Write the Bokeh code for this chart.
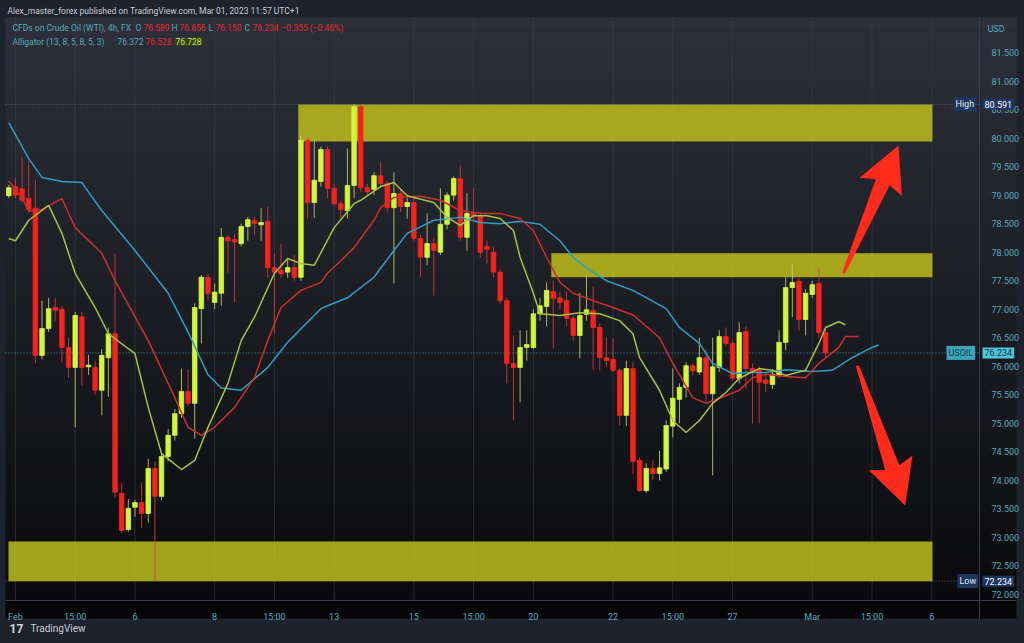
import numpy as np
from bokeh.plotting import figure
from bokeh.models import (ColumnDataSource, FixedTicker, Range1d, Label, LinearAxis,
                          PrintfTickFormatter)
from bokeh.embed import file_html
from bokeh.resources import INLINE

# ---------------- data (4h candles, CFDs on Crude Oil WTI) ----------------
opens = [78.99, 79.15, 79.11, 78.94, 78.77, 76.19, 76.66, 77.03, 77.00, 76.33,
         75.98, 76.87, 75.99, 75.98, 75.58, 76.15, 76.57, 73.77, 73.14, 73.53,
         73.61, 73.42, 74.21, 73.72, 74.42, 74.79, 75.17, 75.56, 75.35, 77.01,
         77.56, 77.12, 77.28, 78.26, 78.22, 78.15, 78.45, 78.55, 78.48, 78.54,
         77.73, 77.68, 77.65, 77.73, 77.56, 79.96, 78.87, 79.24, 79.80, 79.12,
         78.85, 78.73, 79.17, 80.55, 79.13, 79.10, 79.34, 79.20, 78.78, 79.03,
         78.80, 78.87, 78.24, 77.91, 78.15, 78.00, 78.49, 79.00, 79.29, 78.26,
         78.68, 78.64, 78.10, 78.00, 77.65, 77.15, 76.05, 75.98, 76.33, 76.33,
         76.92, 77.05, 77.31, 77.20, 77.15, 76.84, 76.54, 76.91, 76.98, 76.68,
         76.15, 76.12, 75.93, 75.14, 75.96, 74.35, 73.82, 74.21, 74.12, 74.20,
         74.95, 75.42, 75.63, 76.01, 75.90, 76.15, 75.52, 75.98, 76.52, 76.40,
         75.79, 76.61, 75.96, 75.94, 75.76, 75.68, 75.84, 76.42, 77.38, 77.49,
         76.82, 77.26, 77.45, 76.59]
highs = [79.18, 79.30, 79.66, 79.60, 79.26, 77.15, 77.20, 77.20, 77.05, 76.50,
         76.95, 76.95, 76.20, 76.10, 76.30, 76.68, 77.98, 73.96, 73.67, 73.66,
         73.96, 74.38, 74.33, 74.50, 74.90, 75.25, 75.96, 75.94, 77.10, 77.60,
         77.62, 77.45, 78.42, 78.30, 78.32, 78.50, 78.62, 78.62, 78.77, 78.80,
         77.98, 78.15, 77.90, 77.95, 80.05, 80.00, 79.96, 79.85, 79.85, 79.20,
         78.90, 79.82, 80.591, 80.59, 79.20, 79.40, 79.57, 79.25, 79.40, 79.10,
         78.95, 78.95, 78.30, 78.68, 78.25, 79.12, 79.05, 79.33, 79.52, 79.03,
         79.12, 78.70, 78.20, 78.10, 77.70, 77.20, 76.54, 76.63, 76.63, 77.00,
         77.20, 77.47, 77.50, 77.30, 77.30, 76.90, 77.29, 77.59, 77.40, 76.75,
         76.50, 76.49, 75.96, 76.10, 76.07, 74.40, 74.30, 74.35, 74.52, 75.05,
         75.96, 75.70, 76.07, 76.05, 76.50, 76.30, 76.50, 76.63, 76.68, 76.45,
         76.77, 76.70, 76.05, 76.00, 75.85, 75.95, 76.63, 77.56, 77.80, 77.55,
         77.35, 77.50, 77.71, 76.66]
lows = [78.95, 78.95, 78.88, 78.70, 76.05, 76.12, 76.60, 76.80, 76.07, 75.80,
        74.93, 75.66, 75.85, 75.50, 75.14, 75.46, 73.70, 73.08, 73.10, 73.36,
        73.16, 73.26, 72.234, 73.65, 74.33, 74.70, 75.10, 75.30, 74.73, 76.40,
        77.15, 77.00, 77.06, 77.64, 77.12, 78.10, 78.20, 78.30, 78.20, 77.56,
        76.57, 77.55, 77.55, 77.50, 77.50, 78.59, 78.60, 79.15, 78.95, 78.80,
        78.60, 78.59, 78.95, 79.05, 79.00, 79.00, 79.15, 78.70, 77.45, 78.70,
        78.59, 78.20, 77.56, 77.77, 77.24, 77.95, 78.40, 78.90, 78.20, 78.03,
        78.55, 77.90, 77.80, 77.55, 77.10, 75.70, 75.05, 75.37, 76.10, 76.30,
        76.80, 76.70, 76.31, 77.00, 76.70, 76.45, 76.14, 76.80, 75.93, 75.93,
        75.98, 75.90, 74.96, 74.95, 74.12, 73.80, 73.78, 74.00, 74.00, 74.15,
        74.75, 75.00, 75.45, 75.85, 75.85, 75.35, 74.09, 75.90, 76.35, 75.75,
        75.70, 75.60, 75.00, 75.00, 75.55, 75.60, 75.80, 76.28, 76.86, 76.63,
        76.54, 77.20, 76.50, 76.15]
closes = [79.13, 79.00, 78.91, 78.75, 76.19, 76.66, 77.01, 76.98, 76.33, 75.98,
          76.89, 75.98, 76.02, 75.58, 76.19, 76.57, 73.79, 73.12, 73.51, 73.61,
          73.42, 74.21, 73.72, 74.42, 74.79, 75.17, 75.56, 75.35, 77.03, 77.56,
          77.28, 77.30, 78.26, 78.20, 78.18, 78.45, 78.57, 78.50, 78.52, 77.73,
          77.65, 77.62, 77.73, 77.56, 79.96, 78.87, 79.26, 79.80, 79.12, 78.85,
          78.75, 79.17, 80.55, 79.13, 79.06, 79.34, 79.20, 78.78, 79.03, 78.80,
          78.87, 78.24, 77.91, 78.15, 78.03, 78.49, 79.00, 79.29, 78.26, 78.68,
          78.63, 78.00, 78.05, 77.65, 77.15, 76.05, 75.98, 76.33, 76.38, 76.92,
          77.06, 77.33, 77.19, 77.12, 76.84, 76.54, 76.89, 76.99, 76.68, 76.15,
          76.10, 75.93, 75.14, 75.96, 74.33, 73.82, 74.21, 74.12, 74.22, 74.96,
          75.44, 75.63, 76.01, 75.92, 76.15, 75.52, 75.99, 76.52, 76.40, 75.79,
          76.59, 75.96, 75.90, 75.72, 75.70, 75.86, 76.42, 77.38, 77.47, 76.82,
          77.28, 77.43, 76.59, 76.234]

# Alligator (13, 8, 5, 8, 5, 3) (candle index, price)
jaw_x = [0, 3, 5, 8, 11, 14, 19, 24, 27, 28, 30, 32, 35, 39, 42, 47, 48, 51, 55, 58,
         60, 64, 68, 71, 74, 77, 80, 83, 85, 87, 90, 94, 99, 101, 104, 106, 109, 111, 114, 117,
         121, 124, 127, 130, 131]
jaw_y = [80.27, 79.64, 79.31, 79.24, 79.22, 78.73, 78.03, 77.28, 76.60, 76.35,
         75.85, 75.62, 75.58, 75.98, 76.42, 77.01, 77.06, 77.20, 77.56, 78.03,
         78.33, 78.56, 78.61, 78.52, 78.50, 78.54, 78.49, 78.20, 77.91, 77.72,
         77.50, 77.33, 77.01, 76.68, 76.40, 76.05, 75.87, 75.89, 75.89, 75.94,
         75.91, 75.93, 76.15, 76.33, 76.372]
teeth_x = [0, 2, 3, 5, 8, 10, 14, 16, 21, 25, 27, 29, 31, 34, 37, 39, 41, 44, 47, 48,
           50, 52, 55, 56, 58, 62, 65, 68, 71, 74, 77, 79, 81, 83, 85, 88, 91, 94, 98, 100,
           103, 105, 107, 110, 112, 114, 117, 120, 122, 125, 126, 128]
teeth_y = [79.25, 78.95, 78.72, 78.75, 78.94, 78.43, 77.98, 77.50, 76.45, 75.45,
           74.93, 74.79, 74.93, 75.28, 75.80, 76.45, 77.03, 77.33, 77.47, 77.63,
           77.85, 78.08, 78.56, 78.78, 78.96, 78.98, 78.91, 78.73, 78.68, 78.68,
           78.59, 78.38, 77.91, 77.47, 77.28, 77.15, 77.03, 76.90, 76.50, 76.05,
           75.45, 75.35, 75.44, 75.58, 75.80, 75.86, 75.82, 75.80, 76.05, 76.33,
           76.52, 76.52]
lips_x = [0, 1, 3, 6, 8, 10, 13, 15, 19, 21, 23, 26, 28, 30, 33, 35, 37, 40, 42, 44,
          46, 49, 52, 53, 56, 58, 60, 64, 66, 68, 70, 72, 74, 76, 77, 79, 80, 83, 86, 89,
          92, 94, 95, 98, 100, 102, 104, 106, 108, 110, 113, 115, 117, 120, 122, 123, 125, 126]
lips_y = [78.24, 78.20, 78.56, 78.82, 78.33, 77.63, 77.03, 76.57, 76.22, 75.28,
          74.47, 74.19, 74.35, 74.93, 75.70, 76.45, 76.86, 77.63, 77.89, 77.80,
          77.77, 78.43, 78.85, 78.91, 79.15, 79.22, 78.99, 78.87, 78.61, 78.47,
          78.64, 78.64, 78.59, 78.38, 77.91, 77.28, 76.92, 76.89, 76.94, 76.92,
          76.80, 76.57, 76.15, 75.58, 75.05, 74.84, 75.05, 75.35, 75.54, 75.79,
          75.96, 75.93, 75.84, 75.93, 76.40, 76.68, 76.78, 76.728]

# drawn zones (support / resistance boxes)
zone_left = [43.6, 81.7, -0.05]
zone_right = [139.1, 139.1, 139.1]
zone_bottom = [79.94, 77.56, 72.23]
zone_top = [80.59, 77.98, 72.93]

# drawn arrows (tail -> tip)
arrow_tail_x = [125.7, 127.8]
arrow_tail_y = [77.63, 76.01]
arrow_tip_x = [134.0, 135.0]
arrow_tip_y = [79.87, 73.56]

price_high = 80.591
price_low = 72.234
price_last = 76.234

price_ticks = [72.0, 72.5, 73.0, 73.5, 74.0, 74.5, 75.0, 75.5, 76.0, 76.5,
               77.0, 77.5, 78.0, 78.5, 79.0, 79.5, 80.0, 80.5, 81.0, 81.5]
time_ticks = [1, 10, 19, 31, 40, 49, 61, 70, 79, 91, 100, 109, 121, 130, 139]
time_labels = ["Feb", "15:00", "6", "8", "15:00", "13", "15", "15:00", "20", "22",
               "15:00", "27", "Mar", "15:00", "6"]

# ---------------- layout constants (screen geometry) ----------------
W, H = 1024, 643                 # whole figure = frame (page has no margin)
PX_K = 6.64                      # pixels per candle
PX_P = 57.05                     # pixels per 1.0 USD
X0 = -8.3 / PX_K
X1 = X0 + W / PX_K
Y1 = 81.5 + 52 / PX_P            # figure top
Y0 = Y1 - H / PX_P               # figure bottom
X_PANE = X0 + 5 / PX_K           # left edge of the chart pane
X_SCALE = X0 + 979 / PX_K        # right edge of the chart pane (price scale starts)
Y_TOP = Y1 - 17 / PX_P           # top of chart pane
Y_TIME = Y1 - 600 / PX_P         # bottom of chart pane (time scale starts)
Y_FOOT = Y1 - 618 / PX_P         # bottom of time scale strip
X_RIGHT = X0 + 1016 / PX_K       # right edge of price scale

FONT = "Roboto"
TEAL = "#56a9bb"
RED = "#e8262a"

p = figure(frame_width=W, frame_height=H, x_range=Range1d(X0, X1), y_range=Range1d(Y0, Y1),
           x_axis_location=None, y_axis_location=None,
           output_backend="svg", toolbar_location=None, min_border=0,
           background_fill_color="#1e222d", border_fill_color="#1e222d",
           outline_line_color=None)
p.xgrid.visible = False
p.ygrid.visible = False

# vertical gradient background of chart pane + price scale
top_rgb = np.array([45, 48, 58])
bot_rgb = np.array([10, 10, 12])
NB = 48
edges = np.linspace(Y_TOP, Y_TIME, NB + 1)
cols = []
for i in range(NB):
    t = (i + 0.5) / NB
    col = top_rgb * (1 - t) + bot_rgb * t
    cols.append("#%02x%02x%02x" % tuple(int(round(v)) for v in col))
p.quad(left=X_PANE, right=X_RIGHT, top=edges[:-1], bottom=edges[1:] - 0.004,
       fill_color=cols, line_color=None)
# time-scale strip
p.quad(left=X_PANE, right=X_RIGHT, top=Y_TIME, bottom=Y_FOOT, fill_color="#050507",
       line_color=None)

# day / session separators
p.segment(x0=time_ticks, x1=time_ticks, y0=Y_TIME, y1=Y_TOP, line_color="#3a3e4a",
          line_alpha=0.6, line_width=1)

# zones
p.quad(left=zone_left, right=zone_right, bottom=zone_bottom, top=zone_top,
       fill_color="#c4c41c", fill_alpha=0.82, line_color=None)

# reference lines (High / Low / last price)
p.segment(x0=X_PANE, x1=X_SCALE, y0=price_high, y1=price_high, line_color="#8a8d96",
          line_dash="1 2", line_alpha=0.7)
p.segment(x0=X_PANE, x1=X_SCALE, y0=price_low, y1=price_low, line_color="#8a8d96",
          line_dash="1 2", line_alpha=0.7)
p.segment(x0=X_PANE, x1=X_SCALE, y0=price_last, y1=price_last, line_color="#4fc3da",
          line_dash="1 2", line_alpha=0.75)

# candles
k = np.arange(len(opens))
o = np.array(opens); h = np.array(highs); l = np.array(lows); c = np.array(closes)
up = c >= o
dn = ~up
UP, DN = "#d2f73a", "#f5221e"
src_up = ColumnDataSource(dict(x=k[up], top=c[up], bottom=o[up], high=h[up], low=l[up]))
src_dn = ColumnDataSource(dict(x=k[dn], top=o[dn], bottom=c[dn], high=h[dn], low=l[dn]))
p.segment(x0="x", y0="high", x1="x", y1="low", source=src_up, line_color="#c3cc78",
          line_width=1, line_alpha=0.85)
p.segment(x0="x", y0="high", x1="x", y1="low", source=src_dn, line_color="#d8383a",
          line_width=1, line_alpha=0.85)
p.vbar(x="x", width=0.68, top="top", bottom="bottom", source=src_up,
       fill_color=UP, line_color=UP, line_width=0.8)
p.vbar(x="x", width=0.68, top="top", bottom="bottom", source=src_dn,
       fill_color=DN, line_color=DN, line_width=0.8)

# alligator
p.line(jaw_x, jaw_y, line_color="#2b9fc4", line_width=1.5)
p.line(teeth_x, teeth_y, line_color="#c9302e", line_width=1.5)
p.line(lips_x, lips_y, line_color="#a9c043", line_width=1.5)

# arrows (shape built in screen proportions from tail/tip)
def arrow_poly(x0, y0, x1, y1, w_tail=3.0, w_shaft=15.0, head_len=40.0, head_w=46.0):
    ax, ay, bx, by = x0 * PX_K, y0 * PX_P, x1 * PX_K, y1 * PX_P
    dx, dy = bx - ax, by - ay
    L = np.hypot(dx, dy)
    ux, uy = dx / L, dy / L
    nx, ny = -uy, ux
    hx, hy = bx - ux * head_len, by - uy * head_len
    pts = [(ax + nx * w_tail / 2, ay + ny * w_tail / 2),
           (hx + nx * w_shaft / 2, hy + ny * w_shaft / 2),
           (hx + nx * head_w / 2 - ux * 5, hy + ny * head_w / 2 - uy * 5),
           (bx, by),
           (hx - nx * head_w / 2 - ux * 5, hy - ny * head_w / 2 - uy * 5),
           (hx - nx * w_shaft / 2, hy - ny * w_shaft / 2),
           (ax - nx * w_tail / 2, ay - ny * w_tail / 2)]
    return [q[0] / PX_K for q in pts], [q[1] / PX_P for q in pts]

axs, ays = [], []
for i in range(len(arrow_tail_x)):
    xs_, ys_ = arrow_poly(arrow_tail_x[i], arrow_tail_y[i], arrow_tip_x[i], arrow_tip_y[i])
    axs.append(xs_); ays.append(ys_)
p.patches(axs, ays, fill_color="#ff2b1c", line_color=None)

# ---------------- axes (drawn at the pane edges) ----------------
yax = LinearAxis(fixed_location=X_SCALE, bounds=(Y_FOOT, Y_TOP))
yax.ticker = FixedTicker(ticks=price_ticks)
yax.formatter = PrintfTickFormatter(format="%.3f")
yax.major_label_text_color = TEAL
yax.major_label_text_font = FONT
yax.major_label_text_font_size = "9px"
yax.axis_line_color = "#3a3e4a"
yax.major_tick_line_color = None
yax.minor_tick_line_color = None
yax.major_label_standoff = 6
p.add_layout(yax, "right")

xax = LinearAxis(fixed_location=Y_TIME, bounds=(X_PANE, X_RIGHT))
xax.ticker = FixedTicker(ticks=time_ticks)
xax.major_label_overrides = {t: s for t, s in zip(time_ticks, time_labels)}
xax.major_label_text_color = TEAL
xax.major_label_text_font = FONT
xax.major_label_text_font_size = "9px"
xax.axis_line_color = "#3a3e4a"
xax.major_tick_line_color = None
xax.minor_tick_line_color = None
xax.major_label_standoff = 5
p.add_layout(xax, "below")

# ---------------- texts ----------------
def lab(x, y, text, color, size="9px", bg=None, align="left", style="normal", yu="screen", pad=0):
    kw = dict(x=x, y=y, x_units="screen", y_units=yu, text=text, text_color=color,
              text_font=FONT, text_font_size=size, text_baseline="middle",
              text_align=align, text_font_style=style)
    if bg is not None:
        kw.update(background_fill_color=bg, background_fill_alpha=1.0, padding=pad)
    p.add_layout(Label(**kw))

FS = "8.5px"
lab(7, H - 10, "Alex_master_forex published on TradingView.com, Mar 01, 2023 11:57 UTC+1",
    "#c9ccd4", size=FS)

# legend line 1
y1 = H - 27
lab(12, y1, "CFDs on Crude Oil (WTI), 4h, FX", TEAL, size=FS)
lab(135, y1, "O", TEAL, size=FS); lab(143, y1, "76.589", RED, size=FS)
lab(171, y1, "H", TEAL, size=FS); lab(179, y1, "76.656", RED, size=FS)
lab(208, y1, "L", TEAL, size=FS); lab(215, y1, "76.150", RED, size=FS)
lab(244, y1, "C", TEAL, size=FS); lab(252, y1, "76.234", RED, size=FS)
lab(281, y1, "\u22120.355 (\u22120.46%)", RED, size=FS)
# legend line 2
y2 = H - 41
lab(12, y2, "Alligator (13, 8, 5, 8, 5, 3)", TEAL, size=FS)
lab(117, y2, "76.372", TEAL, size=FS)
lab(145, y2, "76.528", RED, size=FS)
lab(174, y2, "76.728", "#c6e04a", bg="#34421b", pad=1, size=FS)

# price scale
lab(987, H - 28, "USD", TEAL)
lab(953, price_high, "High", "#e6e8ee", bg="#1e375f", yu="data", pad=2)
lab(982, price_high, "80.591", "#ffffff", bg="#1c3563", yu="data", pad=2)
lab(957, price_low, "Low", "#e6e8ee", bg="#1e375f", yu="data", pad=2)
lab(982, price_low, "72.234", "#ffffff", bg="#1c3563", yu="data", pad=2)
lab(946, price_last, "USOIL", "#17424d", bg="#3aa4bb", yu="data", pad=2)
lab(982, price_last, "76.234", "#10303a", bg="#4fc6dc", yu="data", pad=2)

# footer
lab(9, 15, "17", "#d1d4dc", size="12px", style="bold")
lab(30, 15, "TradingView", "#c9ccd4", size="10px")

html = file_html(p, INLINE, title="USOIL 4h")
html = html.replace("</head>", "<style>html,body{background:#1e222d;overflow:hidden;}</style></head>", 1)
open("out.html", "w").write(html)
